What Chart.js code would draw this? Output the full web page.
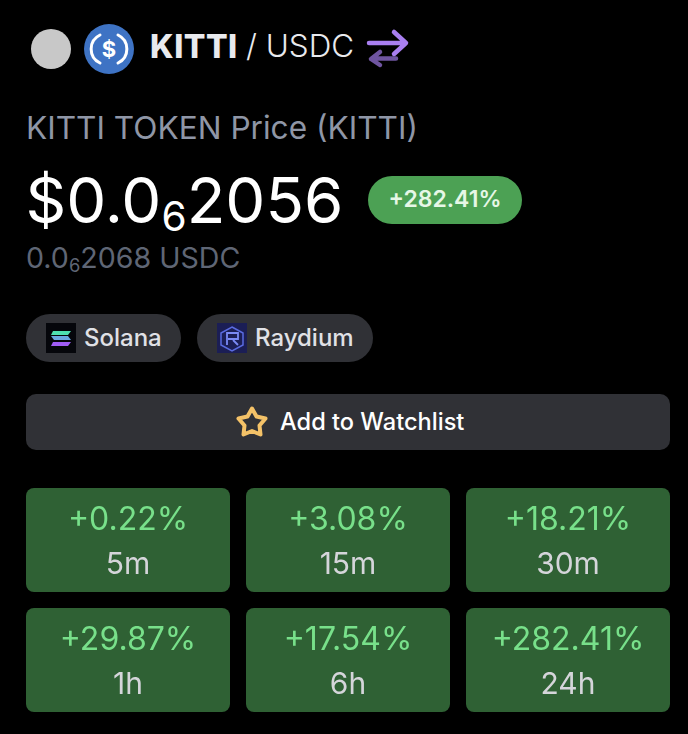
<!DOCTYPE html>
<html><head><meta charset="utf-8">
<script src="https://cdn.jsdelivr.net/npm/chart.js@4"></script>
<style>
html,body{margin:0;padding:0;background:#000;width:688px;height:734px;overflow:hidden;font-family:Inter,sans-serif}
.t{position:absolute;white-space:nowrap;line-height:1}
.box{position:absolute}
svg{position:absolute;overflow:visible}
canvas{position:absolute;left:18px}
sub{font-size:.64em;vertical-align:baseline;position:relative;top:.2em;line-height:0}
</style></head><body>
<div class="box" style="left:26px;top:314px;width:155px;height:48px;border-radius:24px;background:#303136"></div>
<div class="box" style="left:197px;top:314px;width:176px;height:48px;border-radius:24px;background:#303136"></div>
<div class="box" style="left:26px;top:394px;width:644px;height:56px;border-radius:10px;background:#303136"></div>
<div class="box" style="left:368px;top:176px;width:154px;height:48px;border-radius:24px;background:#4ca154"></div>
<svg style="left:0;top:0" width="688" height="734">
  <circle cx="51" cy="49" r="20" fill="#c8c8c8"/>
  <circle cx="109" cy="49" r="25" fill="#3e73c4"/>
  <path d="M100 35a15.5 15.5 0 0 0 0 28M118 35a15.5 15.5 0 0 1 0 28" fill="none" stroke="#fff" stroke-width="3" stroke-linecap="round"/>
  <text x="109" y="57" text-anchor="middle" font-family="Inter" font-weight="700" font-size="22" fill="#fff">$</text>
  <path d="M369 43H405M394 32L406 43L394 54" fill="none" stroke="#a97ff0" stroke-width="4.5" stroke-linecap="round" stroke-linejoin="round"/>
  <path d="M396 58.500H372M380 52L371 59L380 65" fill="none" stroke="#6f55a0" stroke-width="4.500" stroke-linecap="round" stroke-linejoin="round"/>
  <path d="M252 408.500L256.500 416.500L265.500 418.500L259.500 425.500L260.500 434.500L252 431L243.500 434.500L244.500 425.500L238.500 418.500L247.500 416.500Z" fill="none" stroke="#f4c268" stroke-width="4" stroke-linejoin="round"/>
  <rect x="46" y="323" width="30" height="30" fill="#05060b"/>
  <path d="M53 331H71L68 335H51Z" fill="#4ee0b0"/><path d="M51 336H68L71 340H54Z" fill="#6aa6e0"/><path d="M53 342H71L68 346H51Z" fill="#a05cf5"/>
  <rect x="217" y="323" width="30" height="30" fill="#1b1e55"/>
  <path d="M232 327L243 333V345L232 351L221 345V333Z" fill="none" stroke="#5a6be0" stroke-width="1.500"/>
  <path d="M227 345V333H238V339H228M233 340L238 345" fill="none" stroke="#7a8af5" stroke-width="1.800"/>
</svg>
<div class="t" style="left:150px;top:31px;font-size:32px;color:#e9eaee;font-weight:800;letter-spacing:.5px">KITTI</div>
<div class="t" style="left:246px;top:31px;font-size:31.400px;color:#e9eaee;font-weight:300">/ USDC</div>
<div class="t" style="left:26px;top:112px;font-size:31.600px;color:#8f96a6">KITTI TOKEN Price (KITTI)</div>
<div class="t" style="left:25.500px;top:168px;font-size:63.500px;color:#fff">$0.0<sub>6</sub>2056</div>
<div class="t" style="left:368px;top:188px;width:154px;text-align:center;font-size:23px;font-weight:600;color:#e6f7e6">+282.41%</div>
<div class="t" style="left:26px;top:244px;font-size:28.600px;color:#5f6675">0.0<sub>6</sub>2068 USDC</div>
<div class="t" style="left:84px;top:326px;font-size:24px;font-weight:500;color:#e0e1e6">Solana</div>
<div class="t" style="left:255px;top:326px;font-size:24px;font-weight:500;color:#e0e1e6">Raydium</div>
<div class="t" style="left:280px;top:410px;font-size:23.600px;font-weight:500;color:#fff">Add to Watchlist</div>
<canvas id="r1" width="660" height="104" style="top:488px"></canvas>
<canvas id="r2" width="660" height="104" style="top:608px"></canvas>
<script>
const row1Periods = ["5m","15m","30m"];
const row1Changes = [0.22,3.08,18.21];
const row2Periods = ["1h","6h","24h"];
const row2Changes = [29.87,17.54,282.41];
const tileColor = "#2f6134";
const changeColor = "#78e08a";
const periodColor = "#d5d5da";
function tileChart(id, periods, changes){
  return new Chart(document.getElementById(id),{
    type:"bar",
    data:{labels:periods,datasets:[{label:"Change %",data:periods.map(()=>[0,1]),backgroundColor:tileColor,borderWidth:0,borderRadius:8,borderSkipped:false,barPercentage:204/220,categoryPercentage:1}]},
    options:{responsive:false,animation:false,devicePixelRatio:1,layout:{padding:0},
      plugins:{legend:{display:false},tooltip:{enabled:false}},
      scales:{x:{display:false},y:{display:false,min:0,max:1}}},
    plugins:[{id:"tileText",afterDatasetsDraw(c){
      const g=c.ctx;g.save();g.textAlign="center";g.textBaseline="alphabetic";
      c.getDatasetMeta(0).data.forEach((b,i)=>{
        g.font="400 32px Inter";g.fillStyle=changeColor;
        g.fillText("+"+changes[i].toFixed(2)+"%",b.x,42);
        g.font="400 30px Inter";g.fillStyle=periodColor;
        g.fillText(periods[i],b.x,86);
      });g.restore();}}]
  });
}
tileChart("r1",row1Periods,row1Changes);
tileChart("r2",row2Periods,row2Changes);
</script>
</body></html>
